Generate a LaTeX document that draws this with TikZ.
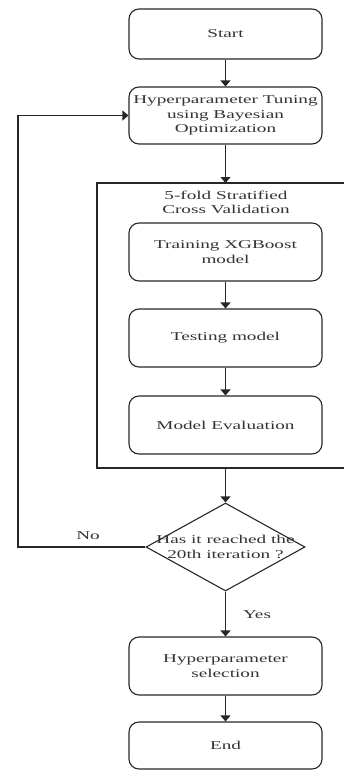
\documentclass[tikz,border=0pt]{standalone}
\usepackage{fontspec}
\setmainfont{Liberation Serif}[FakeStretch=1.6]
\usetikzlibrary{arrows.meta,shapes.geometric}

\begin{document}
\begin{tikzpicture}[x=10pt, y=-10pt,
    every node/.style={font=\fontsize{12}{14.3}\selectfont, text=black!80},
    process/.style={draw=black!85, line width=1.1pt, rounded corners=10pt,
      minimum width=193pt, align=center, inner sep=0pt},
    decision/.style={draw=black!85, line width=1.1pt, diamond,
      minimum width=159pt, minimum height=88pt, inner sep=0pt},
    flow/.style={draw=black!85, line width=1.1pt, -{Triangle[length=6pt,width=10pt]}}]
  \useasboundingbox (0, 0) rectangle (34.4, 77.1);

  \node[process, minimum height=50pt] (start) at (22.55, 3.4) {Start};
  \node[process, minimum height=57pt] (tune) at (22.55, 11.55)
    {Hyperparameter Tuning\\using Bayesian\\Optimization};

  % cross validation frame, open on the right
  \draw[black!85, line width=1.1pt] (35, 18.3) -| (9.7, 46.8) -- (35, 46.8);
  \coordinate (cvtop) at (22.55, 18.3);
  \coordinate (cvbottom) at (22.55, 46.8);
  \node[align=center] (cvlabel) at (22.6, 20.25)
    {5-fold Stratified\\Cross Validation};

  \node[process, minimum height=58pt] (train) at (22.55, 25.2)
    {Training XGBoost\\model};
  \node[process, minimum height=58pt] (test) at (22.55, 33.8) {Testing model};
  \node[process, minimum height=58pt] (eval) at (22.55, 42.5) {Model Evaluation};

  \node[decision] (check) at (22.55, 54.7) {};
  \node[align=center] (checktext) at (check) {Has it reached the\\20th iteration ?};

  \node[process, minimum height=58pt] (select) at (22.55, 66.6)
    {Hyperparameter\\selection};
  \node[process, minimum height=47pt] (end) at (22.55, 74.55) {End};

  \draw[flow] (start) -- (tune);
  \draw[flow] (tune) -- (cvtop);
  \draw[flow] (train) -- (test);
  \draw[flow] (test) -- (eval);
  \draw[flow] (cvbottom) -- (check);

  \coordinate (back) at (1.8, 54.7);
  \draw[flow] (check.west) -- (back) |- (tune.west);
  \node (no) at (8.8, 53.6) {No};

  \draw[flow] (check) -- (select);
  \node (yes) at (25.7, 61.5) {Yes};

  \draw[flow] (select) -- (end);
\end{tikzpicture}
\end{document}
